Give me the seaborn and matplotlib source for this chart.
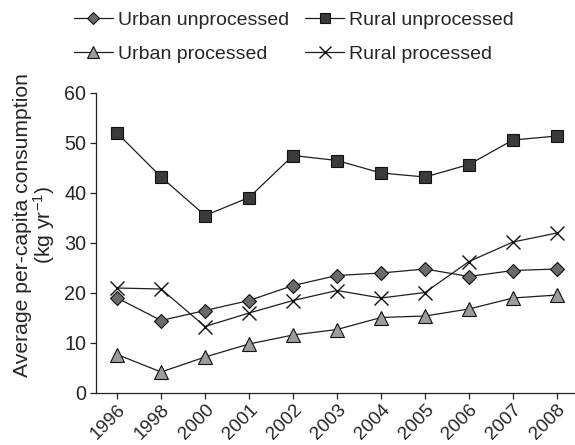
#! /usr/bin/env python3

import matplotlib
matplotlib.use('Agg')

import matplotlib.pyplot as plt
import numpy as np
import pandas as pd
import seaborn as sns

years = ['1996', '1998', '2000', '2001', '2002', '2003', '2004', '2005', '2006', '2007', '2008']

urban_unprocessed = [19.0, 14.5, 16.5, 18.5, 21.5, 23.5, 24.0, 24.8, 23.3, 24.5, 24.8]
rural_unprocessed = [52.0, 43.2, 35.5, 39.1, 47.5, 46.5, 44.0, 43.2, 45.7, 50.6, 51.4]
urban_processed = [7.7, 4.2, 7.2, 9.8, 11.6, 12.7, 15.1, 15.4, 16.8, 19.0, 19.6]
rural_processed = [21.0, 20.8, 13.3, 16.0, 18.5, 20.5, 19.0, 20.1, 26.3, 30.2, 32.0]

row_x = 'pos'
row_y = 'Average per-capita consumption\n(kg yr$^{-1}$)'

series = [
    # label, values, marker, face colour, marker size
    ('Urban unprocessed', urban_unprocessed, 'D', '#6a6a6a', 7),
    ('Urban processed', urban_processed, '^', '#9c9c9c', 9.5),
    ('Rural unprocessed', rural_unprocessed, 's', '#3a3a3a', 9),
    ('Rural processed', rural_processed, 'x', '#222222', 10),
]

sns.set_theme(style='ticks')
plt.rcParams['font.family'] = ['Liberation Sans', 'DejaVu Sans']
plt.rcParams['mathtext.default'] = 'regular'
plt.rcParams['font.size'] = 14

fig = plt.figure(figsize=(5.75, 4.45), dpi=100)
ax = fig.add_axes([96 / 575, 1 - 393 / 445, 1 - 96 / 575, 300 / 445])

handles = []
for label, vals, marker, face, ms in series:
    df = pd.DataFrame({row_x: np.arange(len(years)), row_y: vals})
    sns.lineplot(data=df, x=row_x, y=row_y, ax=ax, color='#1e1e1e', linewidth=0.9,
                 marker=marker, markersize=ms, markerfacecolor=face,
                 markeredgecolor='#111111', markeredgewidth=1.0 if marker == 'x' else 0.8,
                 label=label, legend=False)
    handles.append(ax.lines[-1])

ax.set_xlim(-0.48, 10.41)
ax.set_ylim(0, 60)
ax.set_yticks(range(0, 61, 10))
ax.set_xticks(range(len(years)))
ax.set_xticklabels(years, rotation=45, ha='right', rotation_mode='anchor')
ax.set_xlabel('')
ax.tick_params(axis='y', labelsize=14.2, length=4, width=0.9, color='#222222', pad=3)
ax.tick_params(axis='x', labelsize=13.5, length=4, width=0.9, color='#222222', pad=2)
for s in ['left', 'bottom']:
    ax.spines[s].set_linewidth(0.9)
    ax.spines[s].set_color('#222222')
sns.despine(ax=ax)

ax.set_ylabel(row_y, fontsize=15.2, linespacing=0.95)
ax.yaxis.set_label_coords(-0.082, 0.56)

fig.legend(handles=handles, labels=[s[0] for s in series], ncol=2,
           loc='upper left', bbox_to_anchor=(74 / 575, 1 - 11 / 445),
           frameon=False, fontsize=14, borderpad=0, borderaxespad=0, markerscale=0.85,
           handlelength=2.0, handletextpad=0.25, columnspacing=0.85, labelspacing=0.85)

plt.savefig('out.png', dpi=100)
